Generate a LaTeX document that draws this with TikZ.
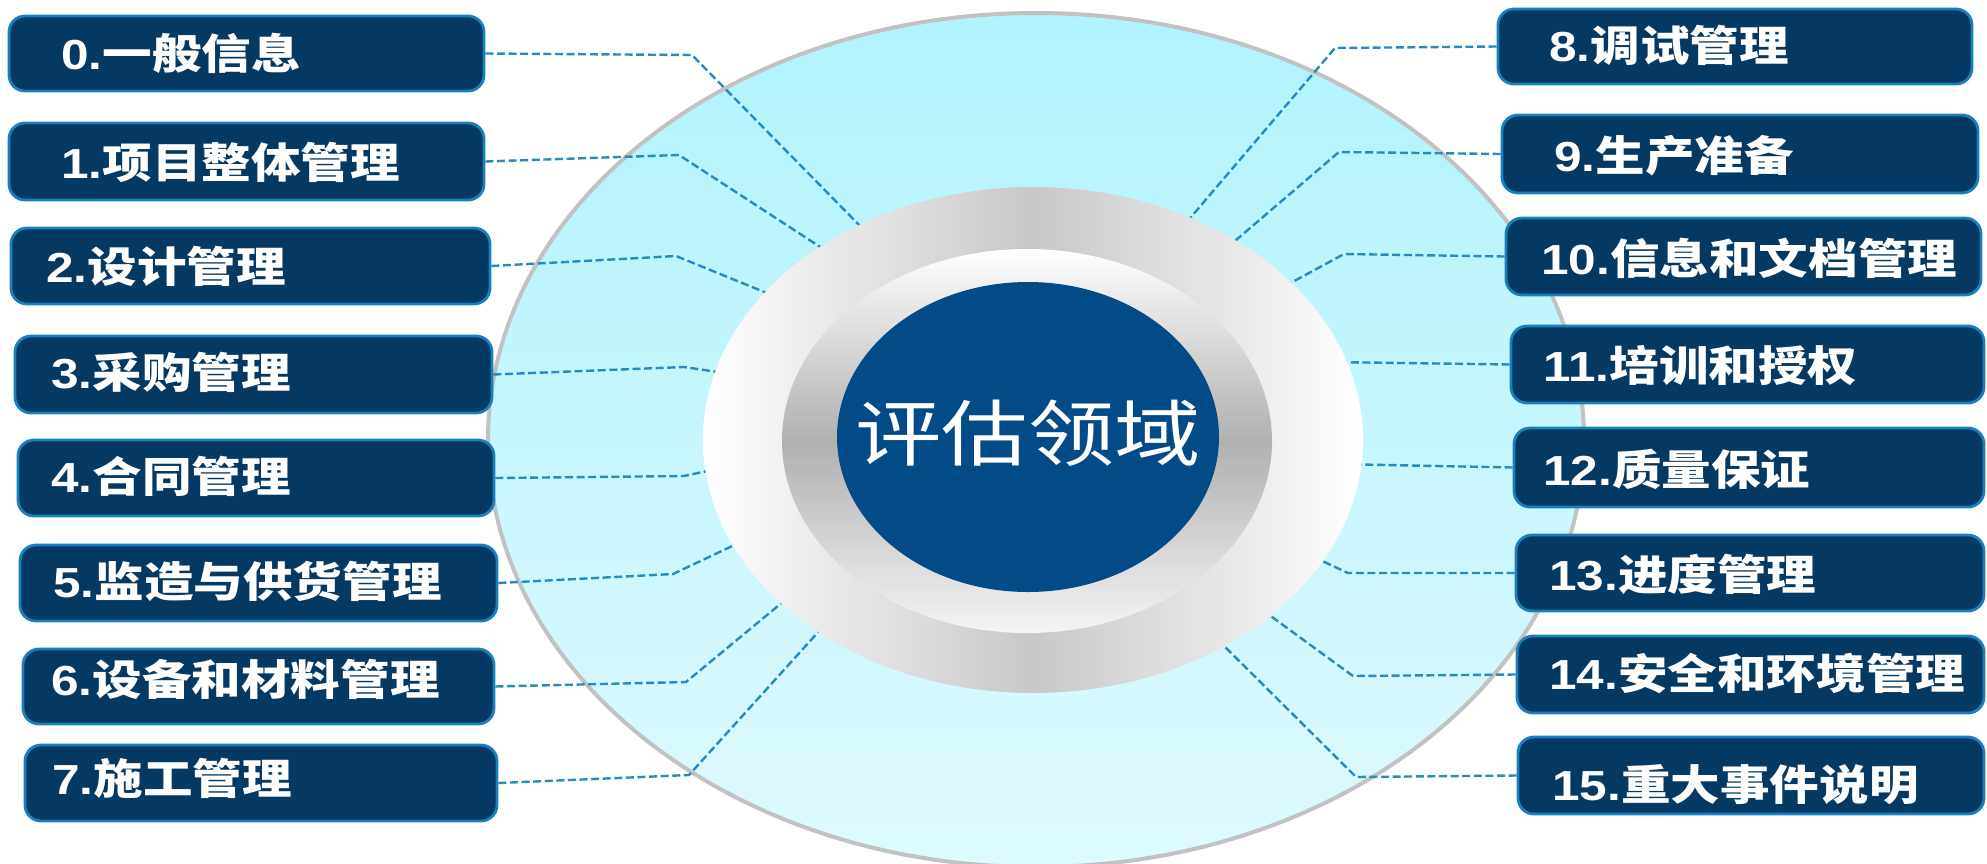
\documentclass[tikz,border=0pt]{standalone}
\usepackage{fontspec}
\usepackage{graphicx}
\usetikzlibrary{shapes.geometric,fit}
\newfontfamily\cjk{Noto Sans CJK SC}
\newfontfamily\latn{Liberation Sans}
\definecolor{boxfill}{RGB}{3,57,99}
\definecolor{boxedge}{RGB}{24,128,188}
\definecolor{lnk}{RGB}{38,140,192}
\definecolor{cyanT}{RGB}{176,243,252}
\definecolor{cyanB}{RGB}{222,250,255}
\definecolor{rimgray}{RGB}{194,194,194}
\definecolor{ringmid}{RGB}{200,200,200}
\definecolor{ringtwomid}{RGB}{176,176,176}
\definecolor{ringtwobot}{RGB}{245,245,245}
\definecolor{coreblue}{RGB}{2,75,135}
\pgfdeclarelayer{bg}\pgfdeclarelayer{lines}\pgfdeclarelayer{rings}
\pgfsetlayers{bg,lines,rings,main}
\newcommand\lbl[2]{\scalebox{1.18}[1]{{\latn\bfseries #1}{\cjk\bfseries #2}}}
\tikzset{
  boxnode/.style={draw=boxedge, line width=1.4pt, fill=boxfill, rounded corners=8pt, inner sep=0pt},
  lab/.style={text=white, anchor=west, inner sep=0pt, font=\fontsize{21}{21}\selectfont},
  conn/.style={draw=lnk, line width=1.2pt, dash pattern=on 4pt off 1.8pt},
  ell/.style={ellipse, inner sep=0pt},
}
\begin{document}
\begin{tikzpicture}[x=0.5pt,y=-0.5pt]
\useasboundingbox (0,0) rectangle (1987,863);

% white page and big background ellipse
\begin{pgfonlayer}{bg}
\fill[white] (0,0) rectangle (1987,863);
\node[ell, draw=rimgray, line width=2pt, top color=cyanT, bottom color=cyanB,
      minimum width=1096pt/2, minimum height=854pt/2] (big) at (1036,440) {};
\end{pgfonlayer}

% rings and core
\begin{pgfonlayer}{rings}
\node[ell, left color=white, right color=white, middle color=ringmid,
      minimum width=330pt, minimum height=253pt] (ring) at (1033,440) {};
\node[ell, top color=white, bottom color=ringtwobot, middle color=ringtwomid,
      minimum width=245pt, minimum height=192pt] (ringtwo) at (1027,441) {};
\node[ell, fill=coreblue, minimum width=191pt, minimum height=155pt,
      text=white, font=\fontsize{36}{36}\selectfont] (core) at (1028,437)
      {\makebox[0pt]{\raisebox{-11.5pt}[0pt][0pt]{\scalebox{1.2}[1]{\cjk 评估领域}}}};
\end{pgfonlayer}

% left boxes
\node[boxnode, fit={(9,16) (484,91)}] (b0) {};
\node[boxnode, fit={(9,123) (484,200)}] (b1) {};
\node[boxnode, fit={(11,228) (490,304)}] (b2) {};
\node[boxnode, fit={(15,336) (492,413)}] (b3) {};
\node[boxnode, fit={(18,440) (494,516)}] (b4) {};
\node[boxnode, fit={(20,545) (497,621)}] (b5) {};
\node[boxnode, fit={(23,649) (494,724)}] (b6) {};
\node[boxnode, fit={(25,745) (497,821)}] (b7) {};
% right boxes
\node[boxnode, fit={(1498,9) (1972,84)}] (b8) {};
\node[boxnode, fit={(1502,115) (1978,193)}] (b9) {};
\node[boxnode, fit={(1506,218) (1981,295)}] (b10) {};
\node[boxnode, fit={(1511,326) (1984,403)}] (b11) {};
\node[boxnode, fit={(1514,428) (1984,507)}] (b12) {};
\node[boxnode, fit={(1516,535) (1984,611)}] (b13) {};
\node[boxnode, fit={(1517,636) (1984,713)}] (b14) {};
\node[boxnode, fit={(1518,737) (1984,814)}] (b15) {};

% labels
\node[lab] (t0) at (61,53) {\lbl{0.}{一般信息}};
\node[lab] (t1) at (61,162) {\lbl{1.}{项目整体管理}};
\node[lab] (t2) at (46,266) {\lbl{2.}{设计管理}};
\node[lab] (t3) at (51,372) {\lbl{3.}{采购管理}};
\node[lab] (t4) at (51,476) {\lbl{4.}{合同管理}};
\node[lab] (t5) at (53,581) {\lbl{5.}{监造与供货管理}};
\node[lab] (t6) at (51,679) {\lbl{6.}{设备和材料管理}};
\node[lab] (t7) at (52,778) {\lbl{7.}{施工管理}};
\node[lab] (t8) at (1549,45) {\lbl{8.}{调试管理}};
\node[lab] (t9) at (1554,156) {\lbl{9.}{生产准备}};
\node[lab] (t10) at (1541,258) {\lbl{10.}{信息和文档管理}};
\node[lab] (t11) at (1543,366) {\lbl{11.}{培训和授权}};
\node[lab] (t12) at (1543,469) {\lbl{12.}{质量保证}};
\node[lab] (t13) at (1549,574) {\lbl{13.}{进度管理}};
\node[lab] (t14) at (1549,673) {\lbl{14.}{安全和环境管理}};
\node[lab] (t15) at (1552,785) {\lbl{15.}{重大事件说明}};

% connectors
\begin{pgfonlayer}{lines}
\coordinate (e0) at (868,234);  \coordinate (e1) at (831,254);
\coordinate (e2) at (779,298);  \coordinate (e3) at (731,374);
\coordinate (e4) at (721,468);  \coordinate (e5) at (745,540);
\coordinate (e6) at (790,596);  \coordinate (e7) at (830,619);
\coordinate (e8) at (1180,230); \coordinate (e9) at (1222,252);
\coordinate (e10) at (1274,292); \coordinate (e11) at (1330,362);
\coordinate (e12) at (1335,464); \coordinate (e13) at (1305,553);
\coordinate (e14) at (1250,601); \coordinate (e15) at (1210,632);
\draw[conn] (b0.east) -- (692,55) -- (e0);
\draw[conn] (b1.east) -- (679,155) -- (e1);
\draw[conn] (b2.east) -- (676,256) -- (e2);
\draw[conn] (b3.east) -- (684,367) -- (e3);
\draw[conn] (b4.east) -- (684,476) -- (e4);
\draw[conn] (b5.east) -- (673,574) -- (e5);
\draw[conn] (b6.east) -- (686,682) -- (e6);
\draw[conn] (b7.east) -- (689,775) -- (e7);
\draw[conn] (b8.west) -- (1335,48) -- (e8);
\draw[conn] (b9.west) -- (1339,152) -- (e9);
\draw[conn] (b10.west) -- (1344,254) -- (e10);
\draw[conn] (b11.west) -- (e11);
\draw[conn] (b12.west) -- (e12);
\draw[conn] (b13.west) -- (1348,573) -- (e13);
\draw[conn] (b14.west) -- (1353,676) -- (e14);
\draw[conn] (b15.west) -- (1356,777) -- (e15);
\end{pgfonlayer}
\end{tikzpicture}
\end{document}
